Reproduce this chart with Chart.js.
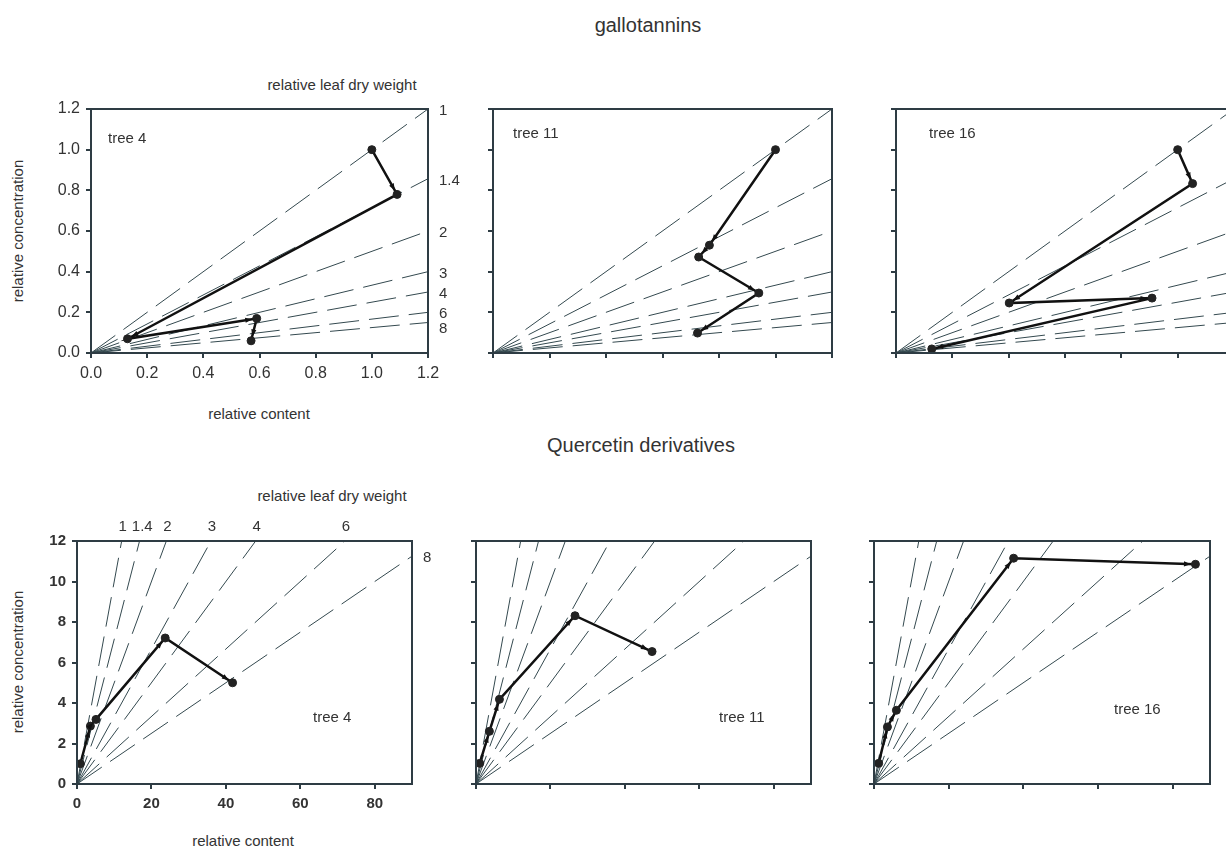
<!DOCTYPE html>
<html lang="en">
<head>
<meta charset="UTF-8">
<title>gallotannins / Quercetin derivatives</title>
<script src="https://cdn.jsdelivr.net/npm/chart.js"></script>
<style>
  body { margin: 0; width: 1226px; height: 850px; overflow: hidden; background: #fff; position: relative;
         font-family: "Liberation Sans", Arial, sans-serif; color: #333; }
  canvas { position: absolute; }
  .t { position: absolute; white-space: nowrap; transform: translate(-50%, -50%); font-size: 15px; }
  .title { font-size: 20px; }
  .rot { transform: translate(-50%, -50%) rotate(-90deg); }
  .tree { position: absolute; white-space: nowrap; transform: translateY(-50%); font-size: 15px; }
</style>
</head>
<body>
<div class="t title" style="left:648px; top:25px">gallotannins</div>
<div class="t" style="left:342px; top:84px">relative leaf dry weight</div>
<div class="t rot" style="left:17px; top:231px">relative concentration</div>
<div class="t" style="left:259px; top:413px">relative content</div>

<div class="t title" style="left:641px; top:445px">Quercetin derivatives</div>
<div class="t" style="left:332px; top:495px">relative leaf dry weight</div>
<div class="t rot" style="left:17px; top:662px">relative concentration</div>
<div class="t" style="left:243px; top:840px">relative content</div>

<script>
  // relative leaf dry weight iso-lines (concentration = content / dry weight)
  const dryWeightRatios = [1, 1.4, 2, 3, 4, 6, 8];

  // gallotannins: relative content (x) and relative concentration (y)
  const galloTree4X  = [1.00, 1.09, 0.13, 0.59, 0.57];
  const galloTree4Y  = [1.00, 0.78, 0.07, 0.17, 0.06];
  const galloTree11X = [1.00, 0.766, 0.728, 0.941, 0.724];
  const galloTree11Y = [1.00, 0.53, 0.472, 0.295, 0.098];
  const galloTree16X = [1.00, 1.053, 0.402, 0.909, 0.127];
  const galloTree16Y = [1.00, 0.833, 0.246, 0.27, 0.02];

  // Quercetin derivatives
  const quercTree4X  = [0.9, 3.6, 5.1, 23.7, 41.8];
  const quercTree4Y  = [1.0, 2.86, 3.19, 7.21, 5.0];
  const quercTree11X = [1.0, 3.6, 6.3, 26.6, 47.3];
  const quercTree11Y = [1.02, 2.6, 4.18, 8.31, 6.54];
  const quercTree16X = [1.25, 3.6, 6.0, 37.4, 86.1];
  const quercTree16Y = [1.02, 2.82, 3.64, 11.15, 10.85];

  // tick labels
  const galloTicks = [0, 0.2, 0.4, 0.6, 0.8, 1.0, 1.2];
  const quercXTicks = [0, 20, 40, 60, 80];
  const quercYTicks = [0, 2, 4, 6, 8, 10, 12];

  const AXIS = '#2e3c44';
  const GUIDE = '#34494f';
  const FONT = '"Liberation Sans", Arial, sans-serif';
  const PL = 75, PR = 45, PT = 35, PB = 45;

  const panels = [
    { xs: galloTree4X,  ys: galloTree4Y,  tree: 'tree 4',  tx: 108,  ty: 137, left: 91,  top: 109, w: 337, h: 244, xMax: 1.2, yMax: 1.2, xTicks: galloTicks, yTicks: galloTicks, first: true,  gallo: true },
    { xs: galloTree11X, ys: galloTree11Y, tree: 'tree 11', tx: 513,  ty: 132, left: 493, top: 109, w: 339, h: 244, xMax: 1.2, yMax: 1.2, xTicks: galloTicks, yTicks: galloTicks, first: false, gallo: true },
    { xs: galloTree16X, ys: galloTree16Y, tree: 'tree 16', tx: 929,  ty: 132, left: 896, top: 109, w: 338, h: 244, xMax: 1.2, yMax: 1.2, xTicks: galloTicks, yTicks: galloTicks, first: false, gallo: true },
    { xs: quercTree4X,  ys: quercTree4Y,  tree: 'tree 4',  tx: 313,  ty: 716, left: 77,  top: 541, w: 335, h: 243, xMax: 90,  yMax: 12,  xTicks: quercXTicks, yTicks: quercYTicks, first: true,  gallo: false },
    { xs: quercTree11X, ys: quercTree11Y, tree: 'tree 11', tx: 719,  ty: 716, left: 476, top: 541, w: 335, h: 243, xMax: 90,  yMax: 12,  xTicks: quercXTicks, yTicks: quercYTicks, first: false, gallo: false },
    { xs: quercTree16X, ys: quercTree16Y, tree: 'tree 16', tx: 1114, ty: 708, left: 874, top: 541, w: 336, h: 243, xMax: 90,  yMax: 12,  xTicks: quercXTicks, yTicks: quercYTicks, first: false, gallo: false }
  ];

  const framePlugin = {
    id: 'frame',
    afterDraw(chart) {
      const a = chart.chartArea, ctx = chart.ctx;
      ctx.save();
      ctx.strokeStyle = AXIS;
      ctx.lineWidth = 2;
      ctx.strokeRect(a.left, a.top, a.right - a.left, a.bottom - a.top);
      ctx.restore();
    }
  };

  const arrowPlugin = {
    id: 'arrows',
    afterDatasetsDraw(chart) {
      const pts = chart.data.datasets[0].data;
      const sx = chart.scales.x, sy = chart.scales.y, ctx = chart.ctx;
      ctx.save();
      ctx.fillStyle = '#111';
      for (let i = 1; i < pts.length; i++) {
        const x0 = sx.getPixelForValue(pts[i - 1].x), y0 = sy.getPixelForValue(pts[i - 1].y);
        const x1 = sx.getPixelForValue(pts[i].x), y1 = sy.getPixelForValue(pts[i].y);
        const ang = Math.atan2(y1 - y0, x1 - x0);
        const c = Math.cos(ang), s = Math.sin(ang);
        const tx = x1 - 4.5 * c, ty = y1 - 4.5 * s;
        const bx = tx - 7 * c, by = ty - 7 * s;
        ctx.beginPath();
        ctx.moveTo(tx, ty);
        ctx.lineTo(bx - 2.6 * s, by + 2.6 * c);
        ctx.lineTo(bx + 2.6 * s, by - 2.6 * c);
        ctx.closePath();
        ctx.fill();
      }
      ctx.restore();
    }
  };

  const ratioLabelPlugin = {
    id: 'ratioLabels',
    afterDraw(chart, args, opts) {
      if (!opts.show) return;
      const sx = chart.scales.x, sy = chart.scales.y, ctx = chart.ctx, a = chart.chartArea;
      const xMax = sx.max, yMax = sy.max;
      ctx.save();
      ctx.fillStyle = '#333';
      ctx.font = '15px ' + FONT;
      ctx.textBaseline = 'middle';
      let lastY = -1e9, lastX = -1e9;
      dryWeightRatios.forEach(r => {
        const xe = Math.min(xMax, yMax * r);
        const label = String(r);
        if (xe < xMax - 1e-9) {
          ctx.textAlign = 'center';
          let px = sx.getPixelForValue(xe) + 1;
          const wd = ctx.measureText(label).width;
          if (px - wd / 2 < lastX + 5) px = lastX + 5 + wd / 2;
          ctx.fillText(label, px, a.top - 14);
          lastX = px + wd / 2;
        } else {
          ctx.textAlign = 'left';
          let py = sy.getPixelForValue(xe / r) + 2;
          if (py < lastY + 15) py = lastY + 15;
          ctx.fillText(label, a.right + 11, py);
          lastY = py;
        }
      });
      ctx.restore();
    }
  };

  panels.forEach(p => {
    const cv = document.createElement('canvas');
    cv.width = p.w + PL + PR;
    cv.height = p.h + PT + PB;
    cv.style.left = (p.left - PL) + 'px';
    cv.style.top = (p.top - PT) + 'px';
    document.body.appendChild(cv);

    const datasets = [{
      data: p.xs.map((x, i) => ({ x: x, y: p.ys[i] })),
      showLine: true,
      borderColor: '#111',
      borderWidth: 2.5,
      pointRadius: 4,
      pointHoverRadius: 4,
      pointBackgroundColor: '#222',
      pointBorderColor: '#222',
      pointBorderWidth: 1
    }];
    dryWeightRatios.forEach(r => {
      const xe = Math.min(p.xMax, p.yMax * r);
      datasets.push({
        data: [{ x: 0, y: 0 }, { x: xe, y: xe / r }],
        showLine: true,
        borderColor: GUIDE,
        borderWidth: 1,
        borderDash: [30, 10],
        pointRadius: 0,
        pointHoverRadius: 0
      });
    });

    const tickFont = { family: FONT, size: p.gallo ? 16 : 15, weight: p.gallo ? 'normal' : 'bold' };
    const tickColor = p.first ? '#333' : 'rgba(0,0,0,0)';
    const fmt = v => p.gallo ? Number(v).toFixed(1) : String(v);
    const axisBase = {
      type: 'linear',
      min: 0,
      grid: { display: true, drawOnChartArea: false, drawTicks: true, tickLength: 5, color: AXIS, lineWidth: 2 },
      border: { display: true, color: AXIS, width: 2 },
      ticks: { color: tickColor, font: tickFont, padding: 6, autoSkip: false, maxRotation: 0, callback: fmt }
    };

    new Chart(cv, {
      type: 'scatter',
      data: { datasets: datasets },
      options: {
        responsive: false,
        animation: false,
        layout: { autoPadding: false, padding: { top: PT, right: PR, left: 0, bottom: 0 } },
        plugins: {
          legend: { display: false },
          tooltip: { enabled: false },
          ratioLabels: { show: p.first }
        },
        scales: {
          x: Object.assign({}, axisBase, {
            max: p.xMax,
            afterBuildTicks: s => { s.ticks = p.xTicks.map(v => ({ value: v })); },
            afterFit: s => { s.height = PB; }
          }),
          y: Object.assign({}, axisBase, {
            max: p.yMax,
            afterBuildTicks: s => { s.ticks = p.yTicks.map(v => ({ value: v })); },
            afterFit: s => { s.width = PL; }
          })
        }
      },
      plugins: [framePlugin, arrowPlugin, ratioLabelPlugin]
    });

    const lab = document.createElement('div');
    lab.className = 'tree';
    lab.style.left = p.tx + 'px';
    lab.style.top = p.ty + 'px';
    lab.textContent = p.tree;
    document.body.appendChild(lab);
  });
</script>
</body>
</html>
